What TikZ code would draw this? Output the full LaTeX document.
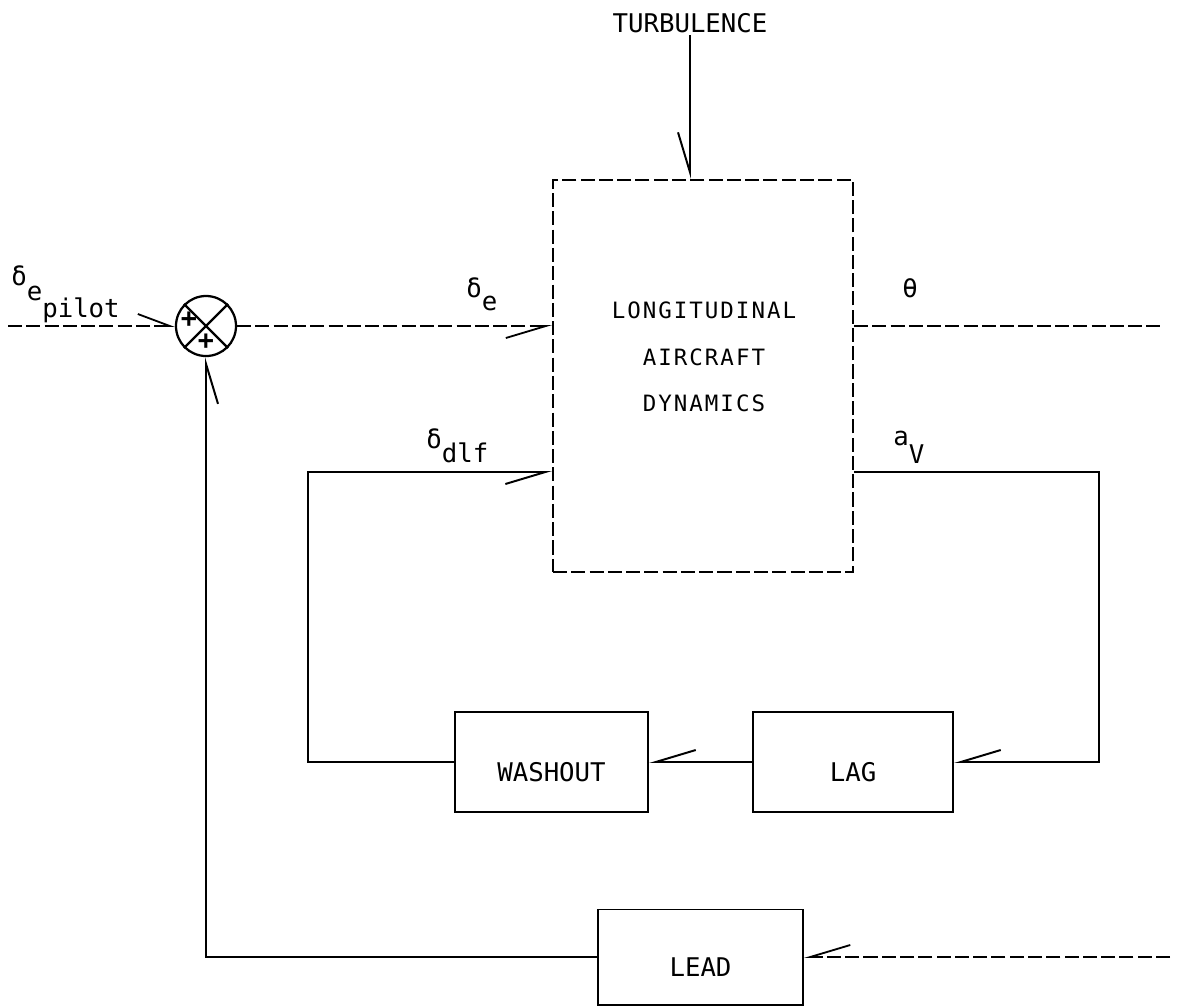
\documentclass[tikz,border=0pt]{standalone}
\usepackage{fontspec}
\newfontfamily\letterfont{DejaVu Sans Mono}
\newfontfamily\dynfont[LetterSpace=8.75]{DejaVu Sans Mono}
\usetikzlibrary{arrows.meta,positioning}

\tikzset{
  sig/.style={line width=1.4pt},
  faint/.style={line width=1.3pt, dash pattern=on 10pt off 3pt},
  barb/.style={-{Straight Barb[harpoon,swap,length=1cm,width=0.6cm]}},
  barbl/.style={-{Straight Barb[harpoon,length=0.8cm,width=0.6cm]}},
  block/.style={draw, line width=1.4pt, inner sep=0pt, text height=0.95cm, text depth=0pt},
  lbl/.style={inner sep=0pt, font=\letterfont\fontsize{18.3}{22}\selectfont},
}

\begin{document}
\begin{tikzpicture}[x=0.025cm,y=-0.025cm]
  \useasboundingbox (0,0) rectangle (1189,1007);
  % blocks
  \node[draw, faint, inner sep=0pt, minimum width=7.5cm, minimum height=9.8cm] (dyn) at (703,376) {};
  \node[lbl, font=\dynfont\fontsize{16}{33.1}\selectfont, align=center] (dyntxt) at (704,357) {LONGITUDINAL\\AIRCRAFT\\DYNAMICS};
  \node[block, lbl, minimum width=4.825cm, minimum height=2.5cm] (wash) at (551.5,762) {WASHOUT};
  \node[block, lbl, minimum width=5cm, minimum height=2.5cm] (lag) at (853,762) {LAG};
  \node[block, lbl, minimum width=5.125cm, minimum height=2.375cm] (lead) at (700.5,957) {LEAD};
  % summing junction
  \node[draw, circle, line width=1.6pt, minimum size=1.5cm, inner sep=0pt] (sum) at (206,326) {};
  \draw[line width=1.6pt] (sum.north west) -- (sum.south east);
  \draw[line width=1.6pt] (sum.north east) -- (sum.south west);
  \node[inner sep=0pt, font=\letterfont\bfseries\fontsize{19}{19}\selectfont] (plusl) at (189,320) {+};
  \node[inner sep=0pt, font=\letterfont\bfseries\fontsize{19}{19}\selectfont] (plusb) at (206,342) {+};
  % labels
  \node[lbl, anchor=base] (turb) at (690,32) {TURBULENCE};
  \node[lbl, anchor=base west] (depilot) at (11,285) {δ\raisebox{-0.375cm}{e\raisebox{-0.425cm}{pilot}}};
  \node[lbl, anchor=base west] (de) at (466,297) {δ\raisebox{-0.325cm}{e}};
  \node[lbl, anchor=base west] (ddlf) at (426,448) {δ\raisebox{-0.35cm}{dlf}};
  \node[lbl, anchor=base west] (th) at (902,297) {θ};
  \node[lbl, anchor=base west] (av) at (893,445) {a\raisebox{-0.45cm}{V}};
  % free ends
  \coordinate (pin) at (8,326);
  \coordinate (thout) at (1160,326);
  \coordinate (rc) at (1099,472);
  \coordinate (lc) at (308,472);
  \coordinate (leadin) at (1170,957);
  % signals
  \draw[sig, barb] ([yshift=-2pt]turb.south) -- (turb.south |- dyn.north);
  \draw[faint, barbl] (pin) -- (sum.west);
  \draw[faint, barb] (sum.east) -- (sum -| dyn.west);
  \draw[faint] (sum -| dyn.east) -- (thout);
  \draw[sig, barb] (rc -| dyn.east) -- (rc) |- (lag.east);
  \draw[sig, barb] (lag.west) -- (wash.east);
  \draw[sig, barb] (wash.west) -| (lc) -- (lc -| dyn.west);
  \draw[faint, barb] (leadin) -- (lead.east);
  \draw[sig, barb] (lead.west) -| (sum.south);
\end{tikzpicture}
\end{document}
